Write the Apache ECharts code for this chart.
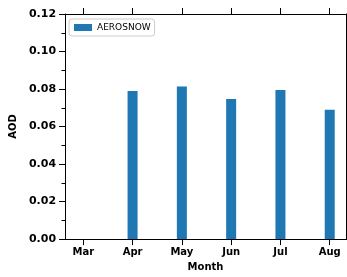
<!DOCTYPE html>
<html><head><meta charset="utf-8">
<script src="https://cdn.jsdelivr.net/npm/echarts@6/dist/echarts.min.js"></script>
<style>html,body{margin:0;padding:0;background:#fff}#c{width:347px;height:277px}</style>
</head><body><div id="c"></div>
<script>
const months = ['Mar','Apr','May','Jun','Jul','Aug'];
const aerosnow = [0, 0.079, 0.0814, 0.0747, 0.0795, 0.0689];
const yTicks = [0, 0.02, 0.04, 0.06, 0.08, 0.10, 0.12];
const seriesName = 'AEROSNOW';

const pos = months.map((m, i) => i);
const font = 'DejaVu Sans';
const chart = echarts.init(document.getElementById('c'), null, {renderer: 'canvas'});
const axLine = {show: true, onZero: false, lineStyle: {color: '#000', width: 1}};
chart.setOption({
  animation: false,
  grid: {left: 65, top: 14, right: 1, bottom: 35, containLabel: false},
  legend: {
    show: true, left: 69, top: 19, orient: 'vertical',
    data: [seriesName],
    itemWidth: 18, itemHeight: 7, itemGap: 4,
    padding: [4, 4, 4, 5],
    borderColor: '#cccccc', borderWidth: 1, borderRadius: 3, backgroundColor: '#fff',
    textStyle: {fontFamily: font, fontSize: 9, color: '#000'},
    icon: 'rect'
  },
  xAxis: [{
    type: 'value', position: 'bottom', min: -0.37, max: 5.33,
    splitLine: {show: false},
    axisLine: axLine,
    axisTick: {show: true, length: 6, inside: false, lineStyle: {color: '#000'}, customValues: pos},
    axisLabel: {show: true, customValues: pos, margin: 8,
      formatter: v => months[Math.round(v)],
      fontFamily: font, fontSize: 10, fontWeight: 'bold', color: '#000'},
    name: 'Month', nameLocation: 'middle', nameGap: 22,
    nameTextStyle: {fontFamily: font, fontSize: 10, fontWeight: 'bold', color: '#000'}
  }, {
    type: 'value', position: 'top', min: -0.37, max: 5.33,
    splitLine: {show: false},
    axisLine: axLine,
    axisTick: {show: true, length: 6, inside: false, lineStyle: {color: '#000'}, customValues: pos},
    axisLabel: {show: false}
  }],
  yAxis: [{
    type: 'value', position: 'left', min: 0, max: 0.12, interval: 0.02,
    splitLine: {show: false},
    axisLine: axLine,
    axisTick: {show: true, length: 6, lineStyle: {color: '#000'}},
    minorTick: {show: true, splitNumber: 2, length: 3.5, lineStyle: {color: '#000'}},
    axisLabel: {margin: 9, formatter: v => v.toFixed(2),
      fontFamily: font, fontSize: 11, fontWeight: 'bold', color: '#000'},
    name: 'AOD', nameLocation: 'middle', nameGap: 45, nameRotate: 90,
    nameTextStyle: {fontFamily: font, fontSize: 10, fontWeight: 'bold', color: '#000'}
  }, {
    type: 'value', position: 'right', min: 0, max: 0.12, interval: 0.02,
    splitLine: {show: false},
    axisLine: axLine,
    axisTick: {show: true, length: 6, lineStyle: {color: '#000'}},
    axisLabel: {show: false}
  }],
  series: [{
    name: seriesName, type: 'bar', xAxisIndex: 0, yAxisIndex: 0,
    barWidth: 10,
    itemStyle: {color: '#1f77b4'},
    data: aerosnow.map((v, i) => [pos[i], v])
  }]
});
</script></body></html>
